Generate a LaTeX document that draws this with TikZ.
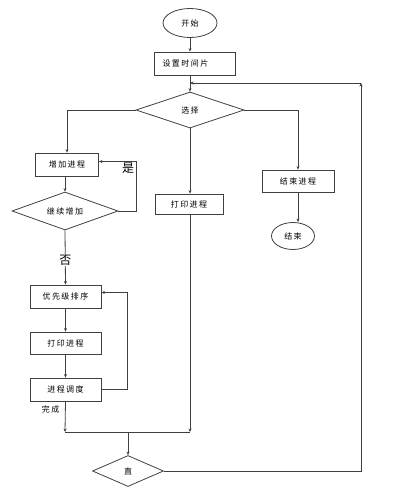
\documentclass[tikz,border=0pt]{standalone}
\usepackage{fontspec}
\newfontfamily\cjk[LetterSpace=18]{Noto Sans CJK SC}
\usepackage{tikz}
\usetikzlibrary{shapes.geometric,arrows.meta,positioning,calc}

\begin{document}
\begin{tikzpicture}[x=1pt,y=-1pt,
    font=\cjk\fontsize{8}{9}\selectfont,
    line width=0.8pt, draw=black!75,
    flowbox/.style={rectangle, draw=black!75, line width=0.8pt, inner sep=0pt},
    flowdec/.style={diamond, draw=black!75, line width=0.8pt, inner sep=0pt, aspect=3},
    flowend/.style={ellipse, draw=black!75, line width=0.8pt, inner sep=0pt},
    arr/.style={-{Stealth[length=3.5pt,width=3pt]}},
    lbl/.style={font=\cjk\fontsize{12}{13}\selectfont}]
  \useasboundingbox (0,0) rectangle (404,498);

  % main column
  \node[flowend, minimum width=54pt, minimum height=29pt] (start) at (190,23) {开始};
  \node[flowbox, minimum width=81pt, minimum height=23pt, text width=65pt, align=left] (settime) at (195,63.5) {设置时间片};
  \node[flowdec, minimum width=108pt, minimum height=36pt] (choose) at (190,110) {选择};

  % left branch
  \node[flowbox, minimum width=63pt, minimum height=23pt] (addproc) at (67,164.5) {增加进程};
  \node[flowdec, minimum width=106pt, minimum height=38pt] (contadd) at (65,211) {继续增加};
  \node[flowbox, minimum width=71pt, minimum height=23pt] (prio) at (65.5,296.5) {优先级排序};
  \node[flowbox, minimum width=71pt, minimum height=22pt] (printl) at (65.5,343) {打印进程};
  \node[flowbox, minimum width=71pt, minimum height=23pt] (sched) at (65.5,389.5) {进程调度};

  % middle and right
  \node[flowbox, minimum width=68pt, minimum height=20pt] (printm) at (189,204) {打印进程};
  \node[flowbox, minimum width=72pt, minimum height=22pt] (endproc) at (298,181) {结束进程};
  \node[flowend, minimum width=43pt, minimum height=27pt] (finish) at (293,236) {结束};

  % bottom
  \node[flowdec, minimum width=71pt, minimum height=31pt] (again) at (128,471) {直};

  \coordinate (joinl) at (65,432);
  \coordinate (joinm) at (190,432);
  \coordinate (joinc) at (128,432);
  \coordinate (ret) at (361,83);

  % connectors
  \draw[arr] (start) -- (start |- settime.north);
  \draw[arr] (settime.south -| start) -- (choose.north);
  \draw[arr] (choose.west) -| (addproc.north);
  \draw[arr] (choose.east) -| (endproc.north);
  \draw[arr] (choose.south) -- (printm.north -| choose);
  \draw[arr] (endproc.south) -- (finish.north -| endproc);
  \draw[arr] (addproc.south -| contadd) -- (contadd.north);
  \draw[arr] (contadd.east) -- ++(18,0) |- ($(addproc.east)+(0,-3)$);
  \node[lbl] (yes) at (128,168) {是};
  \draw[arr] (contadd.south) -- node[lbl, fill=white, inner sep=1pt, pos=0.55] (no) {否} (prio.north);
  \draw[arr] (prio) -- (printl);
  \draw[arr] (printl) -- (sched);
  \draw[arr] (sched.east) -- ++(26,0) |- ($(prio.east)+(0,-4)$);
  \node[anchor=east] (done) at (63,409) {完成};
  \draw[arr] (sched.south) -- (joinl);
  \draw[arr] (printm.south -| joinm) -- (joinm);
  \draw (joinl) -- (joinm);
  \draw[arr] (joinc) -- (again.north);
  \draw[arr] (again.east) -| (ret);
  \draw[arr] (ret) -- (ret -| choose);
\end{tikzpicture}
\end{document}
